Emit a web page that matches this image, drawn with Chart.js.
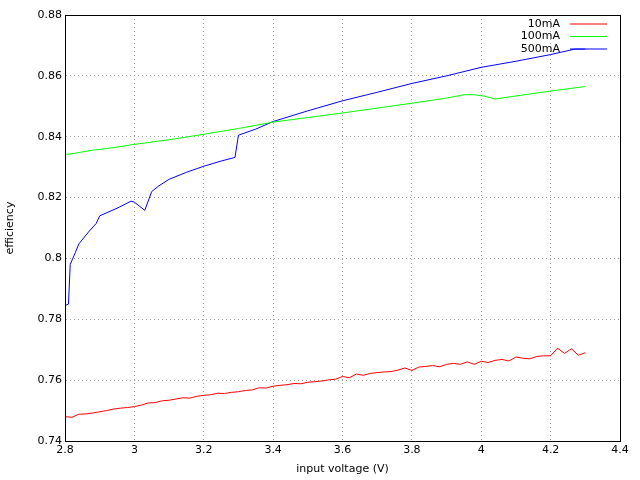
<!DOCTYPE html><html><head><script src="https://cdn.jsdelivr.net/npm/chart.js@4"></script>
<style>body{margin:0;background:#fff}</style></head><body>
<canvas id="c" width="640" height="480" style="width:640px;height:480px"></canvas>
<script>
const x10=[2.8,2.82,2.84,2.86,2.88,2.9,2.92,2.94,2.96,2.98,3.0,3.02,3.04,3.06,3.08,3.1,3.12,3.14,3.16,3.18,3.2,3.22,3.24,3.26,3.28,3.3,3.32,3.34,3.36,3.38,3.4,3.42,3.44,3.46,3.48,3.5,3.52,3.54,3.56,3.58,3.6,3.62,3.64,3.66,3.68,3.7,3.72,3.74,3.76,3.78,3.8,3.82,3.84,3.86,3.88,3.9,3.92,3.94,3.96,3.98,4.0,4.02,4.04,4.06,4.08,4.1,4.12,4.14,4.16,4.18,4.2,4.22,4.24,4.26,4.28,4.3];
const y10=[0.748,0.7478,0.7488,0.7489,0.7492,0.7496,0.750,0.7505,0.7508,0.751,0.7513,0.7518,0.7525,0.7526,0.7532,0.7534,0.7538,0.7542,0.7541,0.7547,0.755,0.7552,0.7557,0.7556,0.756,0.7562,0.7566,0.7568,0.7575,0.7574,0.758,0.7583,0.7585,0.7589,0.7588,0.7593,0.7595,0.7597,0.7601,0.7603,0.7612,0.7608,0.762,0.7616,0.7622,0.7625,0.7627,0.7628,0.7633,0.764,0.7632,0.7643,0.7645,0.7648,0.7644,0.7652,0.7655,0.7652,0.766,0.7652,0.7662,0.7658,0.7665,0.7668,0.7663,0.7676,0.7672,0.767,0.7678,0.768,0.768,0.7705,0.7688,0.7703,0.7682,0.769];
const x100=[2.8,2.82,2.85,2.88,2.9,2.95,3.0,3.1,3.2,3.3,3.4,3.5,3.6,3.7,3.8,3.9,3.95,3.98,4.01,4.04,4.1,4.2,4.3];
const y100=[0.8342,0.8344,0.835,0.8356,0.8358,0.8366,0.8375,0.839,0.8408,0.8427,0.8448,0.8463,0.8478,0.8494,0.851,0.8527,0.8538,0.8538,0.8533,0.8524,0.8534,0.855,0.8565];
const x500=[2.8,2.81,2.815,2.83,2.84,2.87,2.89,2.9,2.95,2.99,3.0,3.03,3.05,3.07,3.1,3.15,3.2,3.25,3.29,3.3,3.35,3.4,3.5,3.6,3.7,3.8,3.9,4.0,4.1,4.2,4.27,4.3];
const y500=[0.7845,0.785,0.798,0.802,0.8048,0.809,0.8115,0.814,0.8165,0.8188,0.8185,0.8158,0.822,0.8238,0.826,0.8283,0.8303,0.832,0.8332,0.8405,0.8425,0.845,0.8485,0.8518,0.8546,0.8575,0.86,0.8628,0.8648,0.867,0.8688,0.8688];
const names=['10mA','100mA','500mA'],cols=['#ff0000','#00ff00','#0000ff'];
const mk=(xs,ys)=>xs.map((x,i)=>({x,y:ys[i]}));
const sets=[mk(x10,y10),mk(x100,y100),mk(x500,y500)];
const leg={id:'leg',afterDraw(ch){const c=ch.ctx;c.save();c.font='11px "DejaVu Sans"';c.textAlign='right';c.textBaseline='middle';
names.forEach((n,i)=>{const y=24+i*12.5;c.fillStyle='#000';c.fillText(n,560,y);c.strokeStyle=cols[i];c.lineWidth=1;c.beginPath();c.moveTo(570,y);c.lineTo(607,y);c.stroke();});c.restore();}};
new Chart(document.getElementById('c'),{type:'scatter',data:{datasets:sets.map((d,i)=>({label:names[i],data:d,showLine:true,borderColor:cols[i],borderWidth:1,pointRadius:0,tension:0}))},
options:{animation:false,responsive:false,devicePixelRatio:1,layout:{padding:{top:15,right:20,left:0,bottom:0}},
plugins:{legend:{display:false},tooltip:{enabled:false}},
scales:{x:{type:'linear',min:2.8,max:4.4,afterFit:s=>{s.height=39},border:{color:'#000',dash:[1,3]},
 ticks:{stepSize:0.2,autoSkip:false,maxRotation:0,color:'#000',font:{family:'DejaVu Sans',size:11},callback:v=>+v.toFixed(1)+''},
 grid:{color:'#a0a0a0',tickLength:0},title:{display:true,text:'input voltage (V)',color:'#000',font:{family:'DejaVu Sans',size:11},padding:{top:4}}},
y:{min:0.74,max:0.88,afterFit:s=>{s.width=65},border:{color:'#000',dash:[1,3]},
 ticks:{stepSize:0.02,autoSkip:false,color:'#000',font:{family:'DejaVu Sans',size:11},callback:v=>+v.toFixed(2)+''},
 grid:{color:'#a0a0a0',tickLength:0},title:{display:true,text:'efficiency',color:'#000',font:{family:'DejaVu Sans',size:11}}}}},
plugins:[leg,{id:'box',afterDraw(ch){const a=ch.chartArea,c=ch.ctx;c.save();c.strokeStyle='#000';c.lineWidth=1;c.strokeRect(a.left+.5,a.top+.5,a.right-a.left,a.bottom-a.top);c.restore();}}]});
</script></body></html>
